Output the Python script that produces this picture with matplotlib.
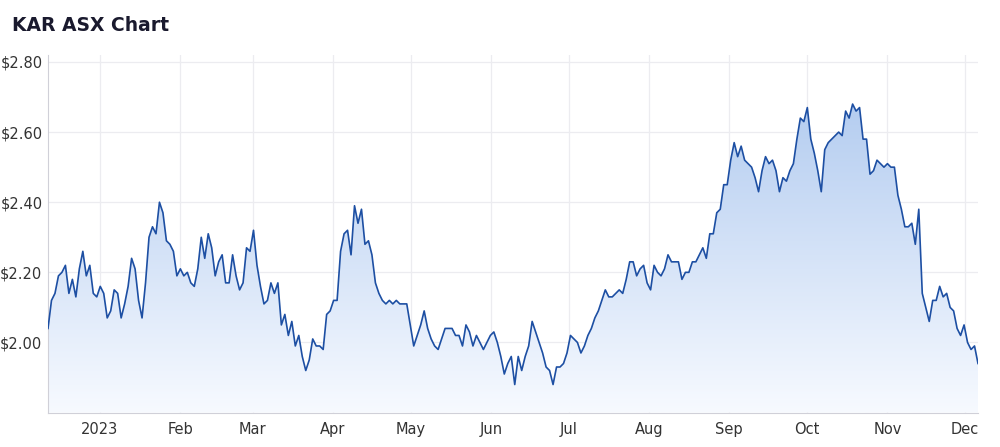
import numpy as np
import pandas as pd
import matplotlib.pyplot as plt
import matplotlib.dates as mdates
from matplotlib.patches import Polygon
from matplotlib.colors import LinearSegmentedColormap

# closing prices, roughly one per trading day, 12 Dec 2022 -> 6 Dec 2023
dec22 = [2.04, 2.12, 2.14, 2.19, 2.20, 2.22, 2.14, 2.18, 2.13, 2.21, 2.26, 2.19, 2.22, 2.14, 2.13]
jan = [2.16, 2.14, 2.07, 2.09, 2.15, 2.14, 2.07, 2.11, 2.16, 2.24, 2.21, 2.12, 2.07, 2.17, 2.30,
       2.33, 2.31, 2.40, 2.37, 2.29, 2.28, 2.26]
feb = [2.19, 2.21, 2.19, 2.20, 2.17, 2.16, 2.21, 2.30, 2.24, 2.31, 2.27, 2.19, 2.23, 2.25, 2.17,
       2.17, 2.25, 2.19, 2.15, 2.17, 2.27, 2.26, 2.32]
mar = [2.22, 2.16, 2.11, 2.12, 2.17, 2.14, 2.17, 2.05, 2.08, 2.02, 2.06, 1.99, 2.02, 1.96, 1.92,
       1.95, 2.01, 1.99, 1.99, 1.98, 2.08, 2.09, 2.12, 2.12]
apr = [2.26, 2.31, 2.32, 2.25, 2.39, 2.34, 2.38, 2.28, 2.29, 2.25, 2.17, 2.14, 2.12, 2.11, 2.12,
       2.11, 2.12, 2.11, 2.11, 2.11]
may = [2.05, 1.99, 2.02, 2.05, 2.09, 2.04, 2.01, 1.99, 1.98, 2.01, 2.04, 2.04, 2.04, 2.02, 2.02,
       1.99, 2.05, 2.03, 1.99, 2.02, 2.00, 1.98, 2.00, 2.02, 2.03]
jun = [2.00, 1.96, 1.91, 1.94, 1.96, 1.88, 1.96, 1.92, 1.96, 1.99, 2.06, 2.03, 2.00, 1.97, 1.93,
       1.92, 1.88, 1.93, 1.93, 1.94, 1.97, 2.02, 2.01, 2.00]
jul = [1.97, 1.99, 2.02, 2.04, 2.07, 2.09, 2.12, 2.15, 2.13, 2.13, 2.14, 2.15, 2.14, 2.18, 2.23,
       2.23, 2.19, 2.21, 2.22, 2.17, 2.15]
aug = [2.22, 2.20, 2.19, 2.21, 2.25, 2.23, 2.23, 2.23, 2.18, 2.20, 2.20, 2.23, 2.23, 2.25, 2.27,
       2.24, 2.31, 2.31, 2.37, 2.38, 2.45, 2.45, 2.52]
sep = [2.57, 2.53, 2.56, 2.52, 2.51, 2.50, 2.47, 2.43, 2.49, 2.53, 2.51, 2.52, 2.49, 2.43, 2.47,
       2.46, 2.49, 2.51, 2.58, 2.64, 2.63, 2.67]
oct_ = [2.58, 2.54, 2.49, 2.43, 2.55, 2.57, 2.58, 2.59, 2.60, 2.59, 2.66, 2.64, 2.68, 2.66, 2.67,
        2.58, 2.58, 2.48, 2.49, 2.52, 2.51, 2.50, 2.51, 2.50]
nov = [2.50, 2.42, 2.38, 2.33, 2.33, 2.34, 2.28, 2.38, 2.14, 2.10, 2.06, 2.12, 2.12, 2.16, 2.13,
       2.14, 2.10, 2.09, 2.04, 2.02]
dec23 = [2.05, 2.00, 1.98, 1.99, 1.94]

prices = np.array(dec22 + jan + feb + mar + apr + may + jun + jul + aug + sep + oct_ + nov + dec23)
start, end = pd.Timestamp("2022-12-12"), pd.Timestamp("2023-12-06")
x = np.linspace(mdates.date2num(start), mdates.date2num(end), len(prices))

ymin, ymax = 1.80, 2.82
line_col = "#1d4fa3"

fig = plt.figure(figsize=(10, 4.47), dpi=100)
ax = fig.add_axes([0.048, 0.077, 0.93, 0.80])

# gradient fill under the line
grad = np.linspace(1, 0, 256).reshape(-1, 1)
cmap = LinearSegmentedColormap.from_list("g", ["#f7faff", "#b3ccf0"])
img = ax.imshow(grad, extent=[x[0], x[-1], ymin, 2.70], aspect="auto", cmap=cmap,
                origin="upper", zorder=1)
poly = Polygon(np.column_stack([np.r_[x[0], x, x[-1]], np.r_[ymin, prices, ymin]]),
               closed=True, facecolor="none", edgecolor="none")
ax.add_patch(poly)
img.set_clip_path(poly)
ax.plot(x, prices, color=line_col, lw=1.2, zorder=3)

ax.set_xlim(x[0], x[-1])
ax.set_ylim(ymin, ymax)
ax.set_yticks([2.0, 2.2, 2.4, 2.6, 2.8])
ax.set_yticklabels(["$2.00", "$2.20", "$2.40", "$2.60", "$2.80"])
months = pd.date_range("2023-01-01", "2023-12-01", freq="MS")
ax.set_xticks(mdates.date2num(months))
ax.set_xticklabels(["2023"] + [m.strftime("%b") for m in months[1:]])
ax.grid(True, color="#ececf0", lw=0.9, zorder=0)
ax.set_axisbelow(True)
for s in ["top", "right"]:
    ax.spines[s].set_visible(False)
for s in ["left", "bottom"]:
    ax.spines[s].set_color("#d0d0d8")
ax.tick_params(length=0, labelsize=10.5, colors="#333333", pad=4)
ax.tick_params(axis="x", pad=7)

fig.text(0.012, 0.965, "KAR ASX Chart", fontsize=13.5, fontweight="bold", color="#1a1a2e", va="top")

fig.savefig("out.png", dpi=100)
